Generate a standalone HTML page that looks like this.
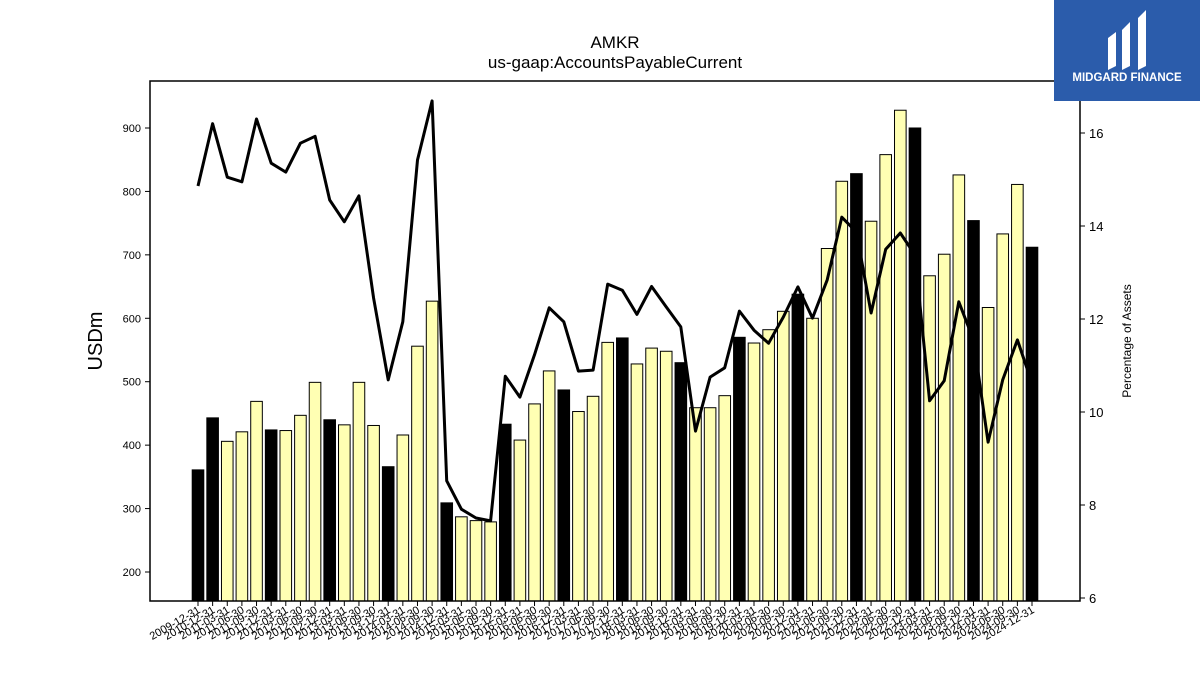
<!DOCTYPE html>
<html><head><meta charset="utf-8"><style>
html,body{margin:0;padding:0;background:#fff;}
svg{display:block;font-family:"Liberation Sans","DejaVu Sans",sans-serif;}
</style></head><body>
<svg id="chart" width="1200" height="675" xmlns="http://www.w3.org/2000/svg">
<rect width="1200" height="675" fill="#fff"/>
<text x="615" y="48" font-size="17" text-anchor="middle">AMKR</text>
<text x="615" y="68" font-size="17" text-anchor="middle">us-gaap:AccountsPayableCurrent</text>
<text transform="translate(102,341) rotate(-90)" font-size="20" text-anchor="middle">USDm</text>
<text transform="translate(1131,341) rotate(-90)" font-size="12" text-anchor="middle">Percentage of Assets</text>
<g id="bars"></g>
<g id="line"></g>
<g id="axes"></g>
<rect x="150" y="81" width="930" height="520" fill="none" stroke="#000" stroke-width="1.5"/>
<g>
<rect x="1054" y="0" width="146" height="101" fill="#2b5cab"/>
<path d="M1108 38 L1116 32 L1116 66 L1108 70 Z M1122 30 L1130 22 L1130 66 L1122 70 Z M1138 18 L1146 10 L1146 66 L1138 70 Z" fill="#fff"/>
<text x="1127" y="81" font-size="11.5" font-weight="bold" fill="#fff" text-anchor="middle">MIDGARD FINANCE</text>
</g>
</svg>
<script>
const categories=["2009-12-31","2010-12-31","2011-03-31","2011-06-30","2011-09-30","2011-12-31","2012-03-31","2012-06-30","2012-09-30","2012-12-31","2013-03-31","2013-06-30","2013-09-30","2013-12-31","2014-03-31","2014-06-30","2014-09-30","2014-12-31","2015-03-31","2015-06-30","2015-09-30","2015-12-31","2016-03-31","2016-06-30","2016-09-30","2016-12-31","2017-03-31","2017-06-30","2017-09-30","2017-12-31","2018-03-31","2018-06-30","2018-09-30","2018-12-31","2019-03-31","2019-06-30","2019-09-30","2019-12-31","2020-03-31","2020-06-30","2020-09-30","2020-12-31","2021-03-31","2021-06-30","2021-09-30","2021-12-31","2022-03-31","2022-06-30","2022-09-30","2022-12-31","2023-03-31","2023-06-30","2023-09-30","2023-12-31","2024-03-31","2024-06-30","2024-09-30","2024-12-31"];
const payables=[361,443,406,421,469,424,423,447,499,440,432,499,431,366,416,556,627,309,287,281,279,433,408,465,517,487,453,477,562,569,528,553,548,530,459,459,478,570,561,582,611,638,600,710,816,828,753,858,928,900,667,701,826,754,617,733,811,712];
const pctAssets=[14.86,16.2,15.05,14.95,16.3,15.35,15.16,15.78,15.93,14.56,14.09,14.65,12.45,10.69,11.94,15.42,16.69,8.52,7.91,7.72,7.66,10.77,10.32,11.23,12.24,11.94,10.88,10.9,12.75,12.62,12.1,12.7,12.26,11.83,9.59,10.75,10.95,12.17,11.76,11.48,12.04,12.69,12.02,12.84,14.19,13.87,12.13,13.5,13.85,13.38,10.24,10.67,12.37,11.55,9.35,10.69,11.55,10.62];
const leftTicks=[200,300,400,500,600,700,800,900];
const rightTicks=[6,8,10,12,14,16];
const NS="http://www.w3.org/2000/svg";
function yL(v){return 572-(v-200)*0.6343;}
function yR(v){return 133+(16-v)*46.5;}
function xC(i){return 198+i*(834/(categories.length-1));}
function mk(t,a,p){const e=document.createElementNS(NS,t);for(const k in a)e.setAttribute(k,a[k]);p.appendChild(e);return e;}
const bars=document.getElementById('bars'),line=document.getElementById('line'),axes=document.getElementById('axes');
const bw=11.6;
payables.forEach((v,i)=>{
  const black=categories[i].endsWith('12-31');
  const r=mk('rect',{x:xC(i)-bw/2,y:yL(v),width:bw,height:601-yL(v),fill:black?'#000':'#ffffb3',stroke:'#000','stroke-width':1},bars);
  
  
});
const pts=pctAssets.map((v,i)=>xC(i).toFixed(1)+','+yR(v).toFixed(1)).join(' ');
const pl=mk('polyline',{points:pts,fill:'none',stroke:'#000','stroke-width':3,'stroke-linejoin':'round'},line);


leftTicks.forEach(t=>{
  const y=yL(t);
  mk('line',{x1:145,x2:150,y1:y,y2:y,stroke:'#000'},axes);
  const tx=mk('text',{x:141,y:y+4,'font-size':11,'text-anchor':'end'},axes);tx.textContent=t;
  
  
});
rightTicks.forEach(t=>{
  const y=yR(t);
  mk('line',{x1:1080,x2:1085,y1:y,y2:y,stroke:'#000'},axes);
  const tx=mk('text',{x:1089,y:y+5,'font-size':13},axes);tx.textContent=t;
  
  
});
categories.forEach((c,i)=>{
  const x=xC(i);
  mk('line',{x1:x,x2:x,y1:601,y2:606,stroke:'#000'},axes);
  const tx=mk('text',{transform:'translate('+(x+3)+',612) rotate(-30)','font-size':11,'text-anchor':'end'},axes);tx.textContent=c;
  
  
});
</script>
</body></html>
